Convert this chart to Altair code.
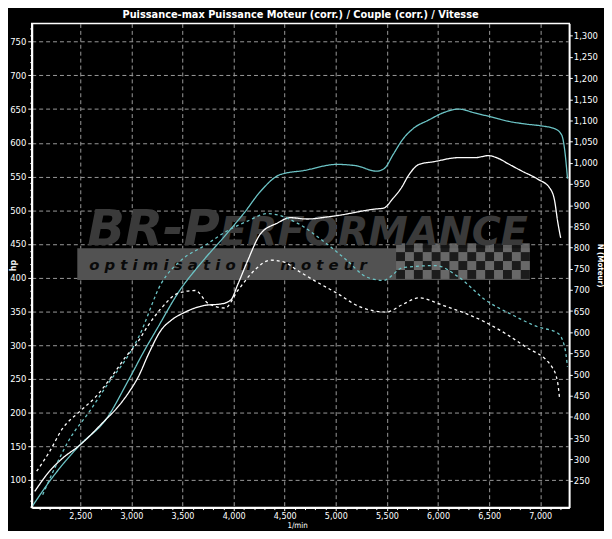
import altair as alt
import pandas as pd

# ---------------- texts ----------------
TITLE = "Puissance-max Puissance Moteur (corr.) / Couple (corr.) / Vitesse"
X_TITLE = "1/min"
Y_LEFT_TITLE = "hp"
Y_RIGHT_TITLE = "N (Moteur)"
WM_BIG_1 = "BR-P"
WM_BIG_2 = "ERFORMANCE"
WM_BAND_1 = "o p t i m i s a t i o n"
WM_BAND_2 = "m o t e u r"

# ---------------- axes ----------------
X_DOMAIN = [2025, 7285]
Y_LEFT_DOMAIN = [59, 777]
Y_RIGHT_DOMAIN = [186, 1329]
x_ticks = list(range(2100, 7201, 100))
y_left_ticks = list(range(60, 771, 10))
y_right_ticks = list(range(250, 1301, 50))

# ---------------- series ----------------
names = ["Puissance Moteur (corr.)", "Couple (corr.)",
         "Puissance-max", "Vitesse"]

s1_rpm = [2035, 2199, 2490, 2752, 2975, 3120, 3265, 3459, 3700, 3915, 4108,
          4263, 4457, 4690, 5010, 5200, 5397, 5475, 5562, 5659, 5756, 5911,
          6076, 6201, 6366, 6531, 6686, 6851, 7016, 7141, 7209, 7238, 7267]
s1_val = [62, 98, 151, 190, 249, 290, 328, 378, 425, 462, 497,
          528, 553, 559, 568, 566, 558, 562, 583, 606, 621, 634,
          646, 650, 644, 638, 632, 628, 625, 621, 612, 591, 547]

s2_rpm = [2054, 2199, 2325, 2490, 2752, 2849, 2975, 3071, 3168, 3294, 3391,
          3527, 3721, 3876, 3973, 4041, 4137, 4263, 4428, 4554, 4719, 4913,
          5010, 5397, 5465, 5562, 5640, 5717, 5814, 5959, 6201, 6366, 6492,
          6589, 6686, 6822, 6977, 7093, 7141, 7170, 7200]
s2_val = [83, 113, 132, 151, 190, 205, 230, 254, 287, 323, 337,
          349, 359, 361, 367, 390, 425, 465, 481, 489, 487, 490,
          492, 502, 503, 518, 533, 553, 568, 572, 578, 578, 581,
          577, 569, 558, 546, 533, 514, 484, 459]

s3_rpm = [2132, 2248, 2393, 2587, 2781, 2946, 3071, 3294, 3488, 3721, 3944,
          4137, 4331, 4457, 4622, 4913, 5106, 5300, 5465, 5659, 5979, 6201,
          6463, 6725, 6977, 7170, 7238, 7267]
s3_val = [78, 117, 160, 201, 245, 279, 312, 392, 426, 448, 470,
          484, 495, 492, 481, 450, 426, 401, 396, 415, 418, 401,
          367, 345, 327, 318, 298, 268]

s4_rpm = [2073, 2199, 2325, 2490, 2655, 2810, 2946, 3042, 3168, 3294, 3459,
          3624, 3750, 3915, 4041, 4205, 4360, 4496, 4622, 4787, 5010, 5232,
          5494, 5650, 5814, 6047, 6463, 6851, 7113, 7170, 7190]
s4_val = [113, 142, 176, 201, 224, 254, 283, 300, 330, 355, 377,
          381, 362, 355, 381, 411, 426, 423, 411, 396, 377, 357,
          349, 360, 370, 359, 334, 298, 268, 245, 220]

colors = ["#6cc4c6", "#ffffff", "#6cc4c6", "#ffffff"]
dashes = [[1, 0], [1, 0], [3, 3], [3, 3]]
widths = [1.3, 1.3, 1.0, 1.0]

rows = []
for name, xs, ys in zip(names, [s1_rpm, s2_rpm, s3_rpm, s4_rpm],
                        [s1_val, s2_val, s3_val, s4_val]):
    for i, (a, b) in enumerate(zip(xs, ys)):
        rows.append({"series": name, "rpm": a, "hp": b, "order": i})
df = pd.DataFrame(rows)

FONT = "Liberation Sans Narrow, Arial Narrow, DejaVu Sans Condensed, sans-serif"
WM_FONT = "DejaVu Sans"

x_scale = alt.Scale(domain=X_DOMAIN, nice=False, zero=False)

x_axis = alt.Axis(
    values=x_ticks,
    labelExpr="datum.value % 500 === 0 ? format(datum.value, ',') : ''",
    tickSize={"condition": {"test": "datum.value % 500 === 0", "value": 3}, "value": 2},
    gridOpacity={"condition": {"test": "datum.value % 500 === 0", "value": 1}, "value": 0},
    grid=True, gridColor="#9a9a9a", gridDash=[4, 3], gridWidth=1,
    domainColor="white", domainWidth=2, tickColor="white",
    labelColor="white", labelFont=FONT, labelFontSize=9, labelPadding=1,
    labelOverlap=False, labelFlush=False, labelBound=False,
    title=X_TITLE, titleColor="white", titleFont=FONT, titleFontSize=8,
    titleFontWeight="normal", titleX=268, titleY=20.6, titleAlign="center",
    titleBaseline="alphabetic",
)

y_axis = alt.Axis(
    values=y_left_ticks,
    labelExpr="datum.value % 50 === 0 ? datum.label : ''",
    tickSize={"condition": {"test": "datum.value % 50 === 0", "value": 4}, "value": 2},
    gridOpacity={"condition": {"test": "datum.value % 50 === 0", "value": 1}, "value": 0},
    grid=True, gridColor="#9a9a9a", gridDash=[4, 3], gridWidth=1,
    domainColor="white", domainWidth=2, tickColor="white",
    labelColor="white", labelFont=FONT, labelFontSize=9.5, labelPadding=2,
    labelOverlap=False, labelFlush=False, labelBound=False,
    title=Y_LEFT_TITLE, titleColor="white", titleFont=FONT, titleFontSize=9,
    titleFontWeight="bold", titleAngle=-90, titleX=-19, titleY=244,
    titleAlign="center", titleBaseline="middle",
)

y_right_axis = alt.Axis(
    orient="right", values=y_right_ticks,
    labelExpr="format(datum.value, ',')",
    tickSize=3, grid=False, domainColor="white", domainWidth=1.5,
    tickColor="white", labelColor="white", labelFont=FONT, labelFontSize=9.5,
    labelPadding=1, labelOverlap=False, labelFlush=False, labelBound=False,
    title=Y_RIGHT_TITLE, titleColor="white", titleFont=FONT, titleFontSize=8,
    titleFontWeight="bold", titleAngle=90, titleX=30, titleY=244,
    titleAlign="center", titleBaseline="middle",
)

one = pd.DataFrame({"k": [0]})

# checkered flag of the watermark (decoration, plot-area pixels)
cells = []
cell = 9
for i in range(15):
    for j in range(4):
        x0 = 368 + i * cell
        y0 = 222 + j * cell
        cells.append({"x0": x0, "x1": x0 + cell, "y0": y0, "y1": y0 + cell,
                      "c": "a" if (i + j) % 2 == 0 else "b"})
cells_df = pd.DataFrame(cells)

band = alt.Chart(one).mark_rect(color="#525252").encode(
    x=alt.value(46), x2=alt.value(503), y=alt.value(227), y2=alt.value(259)
)
checker = alt.Chart(cells_df).mark_rect(opacity=0.9).encode(
    x=alt.X("x0:Q", scale=None, axis=None), x2="x1:Q",
    y=alt.Y("y0:Q", scale=None, axis=None), y2="y1:Q",
    color=alt.Color("c:N", scale=alt.Scale(domain=["a", "b"], range=["#6a6a6a", "#161616"]), legend=None),
)
wm1 = alt.Chart(one).mark_text(
    text=WM_BIG_1, font=WM_FONT, fontSize=50, fontWeight="bold", fontStyle="italic",
    color="#3a3a3a", align="left", baseline="alphabetic"
).encode(x=alt.value(56), y=alt.value(224))
wm2 = alt.Chart(one).mark_text(
    text=WM_BIG_2, font=WM_FONT, fontSize=40, fontWeight="bold", fontStyle="italic",
    color="#3a3a3a", align="left", baseline="alphabetic"
).encode(x=alt.value(190), y=alt.value(224))
wm3 = alt.Chart(one).mark_text(
    text=WM_BAND_1, font=WM_FONT, fontSize=15, fontWeight="bold", fontStyle="italic",
    color="#0a0a0a", align="left", baseline="alphabetic"
).encode(x=alt.value(58), y=alt.value(249))
wm4 = alt.Chart(one).mark_text(
    text=WM_BAND_2, font=WM_FONT, fontSize=15, fontWeight="bold", fontStyle="italic",
    color="#0a0a0a", align="left", baseline="alphabetic"
).encode(x=alt.value(251), y=alt.value(249))

lines = alt.Chart(df).mark_line(interpolate="monotone").encode(
    x=alt.X("rpm:Q", scale=x_scale, axis=x_axis),
    y=alt.Y("hp:Q", scale=alt.Scale(domain=Y_LEFT_DOMAIN, nice=False, zero=False), axis=y_axis),
    color=alt.Color("series:N", scale=alt.Scale(domain=names, range=colors), legend=None),
    strokeDash=alt.StrokeDash("series:N", scale=alt.Scale(domain=names, range=dashes), legend=None),
    strokeWidth=alt.StrokeWidth("series:N", scale=alt.Scale(domain=names, range=widths), legend=None),
    order="order:Q",
)

right = alt.Chart(pd.DataFrame({"rpm": [X_DOMAIN[0]], "nm": [Y_RIGHT_DOMAIN[0]]})).mark_point(
    opacity=0
).encode(
    x=alt.X("rpm:Q", scale=x_scale, axis=x_axis),
    y=alt.Y("nm:Q", scale=alt.Scale(domain=Y_RIGHT_DOMAIN, nice=False, zero=False), axis=y_right_axis),
)

chart = alt.layer(band, checker, wm1, wm2, wm3, wm4, lines, right).resolve_scale(
    y="independent", color="independent"
).properties(
    width=543, height=489,
    autosize=alt.AutoSizeParams(type="none"),
    padding={"left": 24, "top": 13, "right": 35, "bottom": 21},
    title=alt.TitleParams(TITLE, color="white", font=FONT, fontSize=11,
                          fontWeight="bold", anchor="middle", offset=3),
).configure(background="black").configure_view(stroke="white", strokeWidth=1.5)

chart.save("out.html", embed_options={"renderer": "svg", "actions": False})
